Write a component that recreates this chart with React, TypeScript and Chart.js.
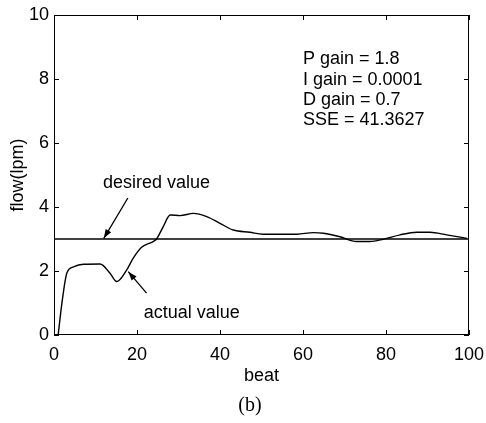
import React, { useEffect, useRef } from "react";
import { Chart, registerables } from "chart.js";

Chart.register(...registerables);

// Data (beat, flow in lpm)
const actualBeats = [1, 1.9, 3.1, 4.7, 7.1, 11.1, 13.5, 15.1, 17.5, 19.1, 21.1, 23.9, 24.7, 26.3, 28.0, 30.4, 33.6, 36.8, 40.0, 43.2, 47.2, 50.4, 58.5, 62.5, 64.9, 68.9, 72.9, 76.1, 79.3, 83.4, 87.4, 90.6, 94.6, 99.5];
const actualFlow = [0, 0.99, 1.94, 2.13, 2.21, 2.22, 1.93, 1.67, 2.03, 2.40, 2.74, 2.92, 3.0, 3.38, 3.75, 3.73, 3.80, 3.70, 3.49, 3.28, 3.21, 3.15, 3.15, 3.20, 3.18, 3.07, 2.92, 2.92, 2.99, 3.13, 3.21, 3.21, 3.13, 3.02];
const desiredBeats = [0, 100];
const desiredFlow = [3, 3];

const xTicks = [0, 20, 40, 60, 80, 100];
const yTicks = [0, 2, 4, 6, 8, 10];

const infoLines = ["P gain = 1.8", "I gain = 0.0001", "D gain = 0.7", "SSE = 41.3627"];
const infoX = 60;
const infoY = [8.62, 7.98, 7.35, 6.72];

const desiredLabel = { text: "desired value", x: 24.7, y: 4.75 };
const desiredArrow = { x1: 17.8, y1: 4.28, x2: 12.0, y2: 3.02 };
const actualLabel = { text: "actual value", x: 33.2, y: 0.69 };
const actualArrow = { x1: 22.3, y1: 1.31, x2: 17.9, y2: 1.98 };

const FONT = '"Liberation Sans", Arial, Helvetica, sans-serif';

function drawArrow(ctx: CanvasRenderingContext2D, x1: number, y1: number, x2: number, y2: number) {
  ctx.beginPath();
  ctx.moveTo(x1, y1);
  ctx.lineTo(x2, y2);
  ctx.stroke();
  const ang = Math.atan2(y2 - y1, x2 - x1);
  const len = 9;
  const w = 3.2;
  const bx = x2 - len * Math.cos(ang);
  const by = y2 - len * Math.sin(ang);
  ctx.beginPath();
  ctx.moveTo(x2, y2);
  ctx.lineTo(bx + w * Math.sin(ang), by - w * Math.cos(ang));
  ctx.lineTo(bx - w * Math.sin(ang), by + w * Math.cos(ang));
  ctx.closePath();
  ctx.fill();
}

const overlay = {
  id: "overlay",
  afterDraw(chart: any) {
    const ctx: CanvasRenderingContext2D = chart.ctx;
    const { left, right, top, bottom } = chart.chartArea;
    const xs = chart.scales.x;
    const ys = chart.scales.y;
    ctx.save();
    ctx.strokeStyle = "#000";
    ctx.fillStyle = "#000";
    ctx.lineWidth = 1;
    ctx.strokeRect(left + 0.5, top + 0.5, right - left - 1, bottom - top - 1);
    const tl = 5;
    ctx.beginPath();
    xTicks.forEach((v) => {
      const px = Math.round(xs.getPixelForValue(v)) + 0.5;
      ctx.moveTo(px, bottom);
      ctx.lineTo(px, bottom - tl);
      ctx.moveTo(px, top);
      ctx.lineTo(px, top + tl);
    });
    yTicks.forEach((v) => {
      const py = Math.round(ys.getPixelForValue(v)) + 0.5;
      ctx.moveTo(left, py);
      ctx.lineTo(left + tl, py);
      ctx.moveTo(right, py);
      ctx.lineTo(right - tl, py);
    });
    ctx.stroke();

    ctx.font = `18px ${FONT}`;
    ctx.textBaseline = "middle";
    ctx.textAlign = "left";
    infoLines.forEach((t, i) => {
      ctx.fillText(t, xs.getPixelForValue(infoX), ys.getPixelForValue(infoY[i]));
    });
    ctx.textAlign = "center";
    ctx.fillText(desiredLabel.text, xs.getPixelForValue(desiredLabel.x), ys.getPixelForValue(desiredLabel.y));
    ctx.fillText(actualLabel.text, xs.getPixelForValue(actualLabel.x), ys.getPixelForValue(actualLabel.y));

    ctx.lineWidth = 1.3;
    drawArrow(ctx, xs.getPixelForValue(desiredArrow.x1), ys.getPixelForValue(desiredArrow.y1), xs.getPixelForValue(desiredArrow.x2), ys.getPixelForValue(desiredArrow.y2));
    drawArrow(ctx, xs.getPixelForValue(actualArrow.x1), ys.getPixelForValue(actualArrow.y1), xs.getPixelForValue(actualArrow.x2), ys.getPixelForValue(actualArrow.y2));

    ctx.font = `20px "Liberation Serif", "DejaVu Serif", serif`;
    ctx.textAlign = "center";
    ctx.fillText("(b)", 250, 406);
    ctx.restore();
  },
};

export default function App() {
  const ref = useRef<HTMLCanvasElement | null>(null);
  useEffect(() => {
    if (!ref.current) return;
    const chart = new Chart(ref.current, {
      type: "line",
      data: {
        datasets: [
          {
            label: "actual value",
            data: actualBeats.map((b, i) => ({ x: b, y: actualFlow[i] })),
            borderColor: "#000",
            borderWidth: 1.4,
            pointRadius: 0,
            fill: false,
            cubicInterpolationMode: "monotone",
          },
          {
            label: "desired value",
            data: desiredBeats.map((b, i) => ({ x: b, y: desiredFlow[i] })),
            borderColor: "#000",
            borderWidth: 1.3,
            pointRadius: 0,
            fill: false,
          },
        ],
      },
      options: {
        responsive: false,
        animation: false,
        events: [],
        layout: { padding: { left: 0, top: 15, right: 17, bottom: 0 } },
        plugins: { legend: { display: false }, tooltip: { enabled: false } },
        scales: {
          x: {
            type: "linear",
            min: 0,
            max: 100,
            afterBuildTicks: (s: any) => {
              s.ticks = xTicks.map((v) => ({ value: v }));
            },
            afterFit: (s: any) => {
              s.height = 88;
              s.paddingRight = 0;
              s.paddingLeft = 0;
            },
            grid: { display: false, drawTicks: false },
            border: { display: false },
            ticks: { color: "#000", font: { family: FONT, size: 18 }, padding: 9, maxRotation: 0 },
            title: { display: true, text: "beat", color: "#000", font: { family: FONT, size: 18 }, padding: { top: 0, bottom: 36 } },
          },
          y: {
            type: "linear",
            min: 0,
            max: 10,
            afterBuildTicks: (s: any) => {
              s.ticks = yTicks.map((v) => ({ value: v }));
            },
            afterFit: (s: any) => {
              s.width = 54;
              s.paddingTop = 0;
              s.paddingBottom = 0;
            },
            grid: { display: false, drawTicks: false },
            border: { display: false },
            ticks: { color: "#000", font: { family: FONT, size: 18 }, padding: 5 },
            title: { display: true, text: "flow(lpm)", color: "#000", font: { family: FONT, size: 18 }, padding: { top: 7, bottom: 0 } },
          },
        },
      },
      plugins: [overlay],
    } as any);
    return () => chart.destroy();
  }, []);
  return (
    <div style={{ position: "fixed", left: 0, top: 0, width: 486, height: 423, background: "#fff" }}>
      <canvas ref={ref} width={486} height={423} style={{ display: "block" }} />
    </div>
  );
}
